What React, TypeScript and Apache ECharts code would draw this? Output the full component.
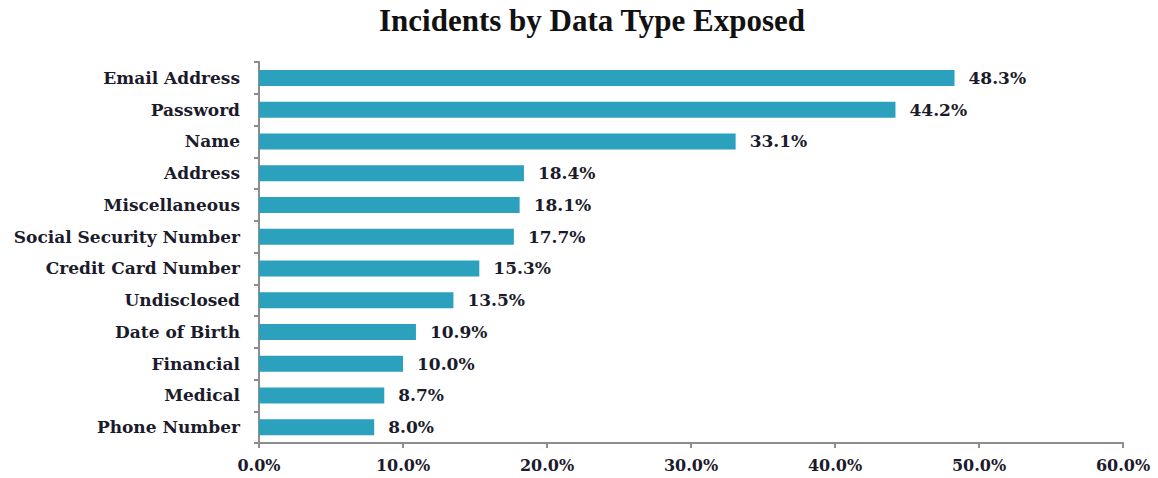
import React, { useEffect, useRef } from "react";
import * as echarts from "echarts";

const categories = [
  "Email Address",
  "Password",
  "Name",
  "Address",
  "Miscellaneous",
  "Social Security Number",
  "Credit Card Number",
  "Undisclosed",
  "Date of Birth",
  "Financial",
  "Medical",
  "Phone Number",
];
const values = [48.3, 44.2, 33.1, 18.4, 18.1, 17.7, 15.3, 13.5, 10.9, 10.0, 8.7, 8.0];
const axisTicks = [0, 10, 20, 30, 40, 50, 60];

const FONT = "'DejaVu Serif', 'Liberation Serif', serif";
const TITLE_FONT = "'Liberation Serif', serif";
const TEXT = "#1b1b2b";

export default function App() {
  const ref = useRef<HTMLDivElement>(null);
  useEffect(() => {
    if (!ref.current) return;
    const chart = echarts.init(ref.current, undefined, { renderer: "svg" });
    chart.setOption({
      animation: false,
      backgroundColor: "#ffffff",
      title: {
        text: "Incidents by Data Type Exposed",
        left: 587,
        textAlign: "center",
        top: 0,
        textStyle: { fontFamily: TITLE_FONT, fontWeight: "bold", fontSize: 31, color: "#111" },
      },
      grid: { left: 259, right: 35, top: 62, bottom: 35 },
      xAxis: {
        type: "value",
        min: axisTicks[0],
        max: axisTicks[axisTicks.length - 1],
        interval: 10,
        splitLine: { show: false },
        axisLine: { show: true, lineStyle: { color: "#8c8c8c", width: 2 } },
        axisTick: { show: true, length: 5, lineStyle: { color: "#8c8c8c", width: 2 } },
        axisLabel: {
          margin: 14,
          formatter: (v: number) => v.toFixed(1) + "%",
          fontFamily: FONT,
          fontWeight: "bold",
          fontSize: 16,
          color: TEXT,
        },
      },
      yAxis: {
        type: "category",
        data: categories,
        inverse: true,
        axisLine: { show: true, lineStyle: { color: "#8c8c8c", width: 2 } },
        axisTick: { show: true, length: 5, lineStyle: { color: "#8c8c8c", width: 2 } },
        axisLabel: {
          margin: 19,
          fontFamily: FONT,
          fontWeight: "bold",
          fontSize: 17,
          color: TEXT,
        },
      },
      series: [
        {
          type: "bar",
          data: values,
          barWidth: 16,
          itemStyle: { color: "#2ca1be" },
          label: {
            show: true,
            position: "right",
            distance: 14,
            formatter: (p: any) => p.value.toFixed(1) + "%",
            fontFamily: FONT,
            fontWeight: "bold",
            fontSize: 17,
            color: TEXT,
          },
        },
      ],
    });
    return () => chart.dispose();
  }, []);
  return (
    <div
      ref={ref}
      style={{ position: "fixed", left: 0, top: 0, width: 1158, height: 478 }}
    />
  );
}
